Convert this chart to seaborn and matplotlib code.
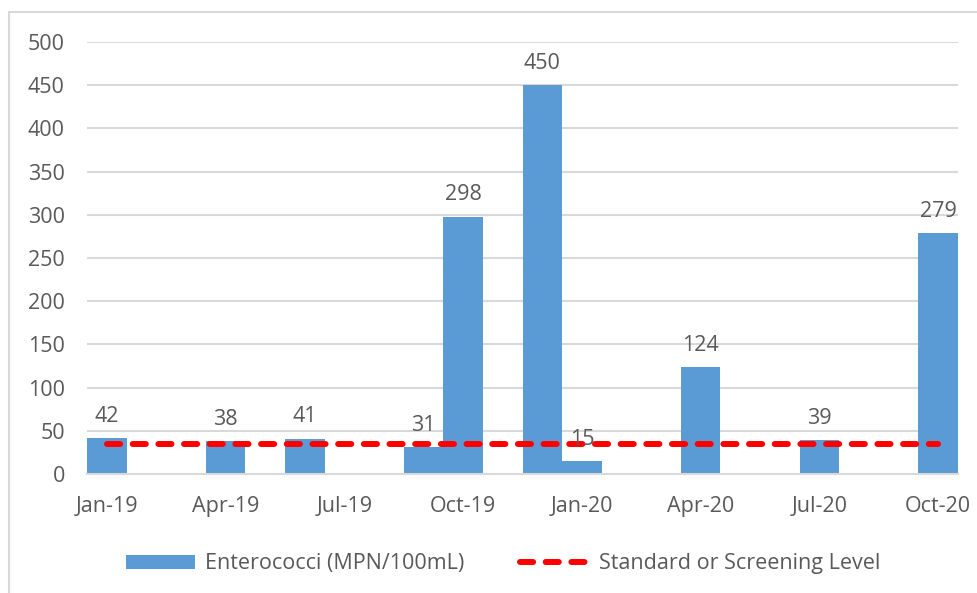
import matplotlib
matplotlib.use("Agg")
import matplotlib.pyplot as plt
from matplotlib.patches import Rectangle, Patch
from matplotlib.lines import Line2D
import seaborn as sns
import pandas as pd

# Sample results (month of sampling and enterococci count)
sample_months = ["Jan-19", "Apr-19", "Jun-19", "Sep-19", "Oct-19",
                 "Dec-19", "Jan-20", "Apr-20", "Jul-20", "Oct-20"]
enterococci = [42, 38, 41, 31, 298, 450, 15, 124, 39, 279]

# Regulatory level and axis labelling
standard_level = 35
tick_labels = ["Jan-19", "Apr-19", "Jul-19", "Oct-19",
               "Jan-20", "Apr-20", "Jul-20", "Oct-20"]
y_ticks = [0, 50, 100, 150, 200, 250, 300, 350, 400, 450, 500]

BAR_BLUE = "#5B9BD5"
GRID_GREY = "#D9D9D9"
TEXT_GREY = "#595959"


def month_index(label, start=pd.Timestamp("2019-01-01")):
    d = pd.to_datetime(label, format="%b-%y")
    return (d.year - start.year) * 12 + (d.month - start.month)


sns.set_theme(style="white")
plt.rcParams["font.family"] = ["Open Sans", "DejaVu Sans"]

df = pd.DataFrame({
    "month": [month_index(m) for m in sample_months],
    "value": enterococci,
})
tick_pos = [month_index(m) for m in tick_labels]
line_df = pd.DataFrame({
    "month": list(range(tick_pos[0], tick_pos[-1] + 1)),
    "level": standard_level,
})

fig = plt.figure(figsize=(9.77, 5.93), dpi=100)
W, H = 977, 593
ax = fig.add_axes([87 / W, 1 - 474 / H, (958 - 87) / W, (474 - 42) / H])

sns.barplot(data=df, x="month", y="value", native_scale=True, width=1.0,
            color=BAR_BLUE, saturation=1, linewidth=0, ax=ax, zorder=2)

sns.lineplot(data=line_df, x="month", y="level", color="#FF0000",
             linewidth=4.3, ax=ax, zorder=3,
             dashes=False)
dash_line = ax.lines[-1]
dash_line.set_dashes((2.2, 2.1))
dash_line.set_dash_capstyle("round")

for container in ax.containers:
    ax.bar_label(container, fmt="%g", padding=8, fontsize=15.5,
                 color=TEXT_GREY, zorder=4)

ax.set_xlim(tick_pos[0] - 0.5, tick_pos[-1] + 0.5)
ax.set_ylim(0, 500)
ax.set_xticks(tick_pos)
ax.set_xticklabels(tick_labels)
ax.set_yticks(y_ticks)
ax.tick_params(axis="both", length=0, labelsize=15.5, labelcolor=TEXT_GREY)
ax.tick_params(axis="x", pad=16)
ax.tick_params(axis="y", pad=16)
ax.set_xlabel("")
ax.set_ylabel("")

ax.yaxis.grid(True, color=GRID_GREY, linewidth=1.5, zorder=0)
ax.set_axisbelow(True)
for side in ["top", "right", "left"]:
    ax.spines[side].set_visible(False)
ax.spines["bottom"].set_color(GRID_GREY)
ax.spines["bottom"].set_linewidth(1.5)

handles = [
    Patch(facecolor=BAR_BLUE, edgecolor="none", label="Enterococci (MPN/100mL)"),
    Line2D([0], [0], color="#FF0000", linewidth=4.3, dashes=(2.2, 2.1),
           dash_capstyle="round", label="Standard or Screening Level"),
]
fig.legend(handles=handles, loc="center", ncol=2, frameon=False,
           bbox_to_anchor=(503 / W, 1 - 564 / H), fontsize=15.5,
           labelcolor=TEXT_GREY, handlelength=3.2, handleheight=0.6,
           handletextpad=0.45, columnspacing=2.6)

# Chart-area border
fig.patches.append(Rectangle((9 / W, -0.05), 1.2, 1 - 12 / H + 0.05,
                             transform=fig.transFigure, fill=False,
                             edgecolor=GRID_GREY, linewidth=1.5))

fig.savefig("out.png", dpi=100)
